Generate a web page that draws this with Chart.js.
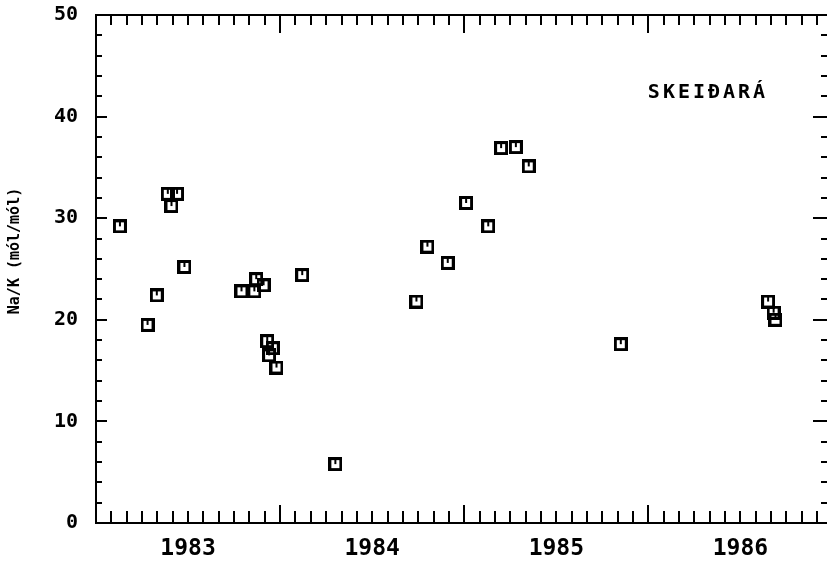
<!DOCTYPE html>
<html>
<head>
<meta charset="utf-8">
<title>Skeiðará Na/K</title>
<script src="https://cdn.jsdelivr.net/npm/chart.js@4/dist/chart.umd.min.js"></script>
<style>
  html, body { margin: 0; padding: 0; background: #fff; overflow: hidden; }
  canvas { display: block; }
</style>
</head>
<body>
<canvas id="chart" width="827" height="566"></canvas>
<script>
// Sampling dates (decimal years) and measured Na/K molar ratios
const sampleDates = [
  1983.13, 1983.28, 1983.33, 1983.39, 1983.44, 1983.41, 1983.48,
  1983.79, 1983.87, 1983.86, 1983.91, 1983.93, 1983.96, 1983.94, 1983.98,
  1984.12, 1984.30,
  1984.74, 1984.80, 1984.91, 1985.01, 1985.13, 1985.20, 1985.28, 1985.35,
  1985.85,
  1986.65, 1986.68, 1986.69
];
const naKRatio = [
  29.2, 19.5, 22.4, 32.4, 32.4, 31.2, 25.2,
  22.8, 24.0, 22.8, 23.4, 17.9, 17.2, 16.5, 15.3,
  24.4, 5.8,
  21.8, 27.2, 25.6, 31.5, 29.2, 36.9, 37.0, 35.1,
  17.6,
  21.8, 20.7, 20.0
];
const yearLabels = ['1983', '1984', '1985', '1986'];
const yMajorTicks = [0, 10, 20, 30, 40, 50];
const riverName = 'SKEIÐARÁ';
const yAxisTitle = 'Na/K (mól/mól)';

const FONT = '"DejaVu Sans Mono", "Liberation Mono", monospace';
const firstYear = Number(yearLabels[0]);
// the plot is clipped a few days before the end of 1986
const xMax = 1986.97;

// Square plotter-style marker with a notch hanging from the top edge
function makeMarker() {
  const c = document.createElement('canvas');
  c.width = 14; c.height = 14;
  const g = c.getContext('2d');
  g.fillStyle = '#000';
  // outline built from filled bars so the edges stay crisp
  g.fillRect(0, 0, 14, 3);
  g.fillRect(0, 11, 14, 3);
  g.fillRect(0, 0, 3, 14);
  g.fillRect(11, 0, 3, 14);
  g.fillRect(6, 3, 2, 4);
  return c;
}

// Frame, inward tick marks, label inside the plot and the rotated axis title
const framePlugin = {
  id: 'frame',
  afterDraw(chart) {
    const { ctx, chartArea: a, scales } = chart;
    const xs = scales.x, ys = scales.y;
    ctx.save();
    ctx.strokeStyle = '#000';
    ctx.lineWidth = 2;
    ctx.beginPath();
    ctx.moveTo(a.right + 2, a.top);
    ctx.lineTo(a.left, a.top);
    ctx.lineTo(a.left, a.bottom);
    ctx.lineTo(a.right + 2, a.bottom);
    ctx.stroke();

    ctx.beginPath();
    // monthly ticks on top and bottom, longer at each new year
    for (let m = 1; firstYear + m / 12 < xMax; m++) {
      const px = Math.round(xs.getPixelForValue(firstYear + m / 12));
      const yearStart = m % 12 === 0;
      const topLen = yearStart ? 18 : 10;
      const botLen = yearStart ? 18 : 12;
      ctx.moveTo(px, a.top); ctx.lineTo(px, a.top + topLen);
      ctx.moveTo(px, a.bottom); ctx.lineTo(px, a.bottom - botLen);
    }
    // ticks every 2 units on left and right, longer at labelled values
    for (let v = 2; v < 50; v += 2) {
      const py = Math.round(ys.getPixelForValue(v));
      const major = yMajorTicks.includes(v);
      const lLen = major ? 11 : 6;
      const rLen = major ? 14 : 6;
      ctx.moveTo(a.left, py); ctx.lineTo(a.left + lLen, py);
      ctx.moveTo(a.right, py); ctx.lineTo(a.right - rLen, py);
    }
    ctx.stroke();

    // river name
    ctx.fillStyle = '#000';
    ctx.font = 'bold 20px ' + FONT;
    if ('letterSpacing' in ctx) ctx.letterSpacing = '3px';
    ctx.textAlign = 'center';
    ctx.textBaseline = 'alphabetic';
    ctx.fillText(riverName, 708, 98);
    if ('letterSpacing' in ctx) ctx.letterSpacing = '0px';

    // y axis title
    ctx.translate(15, 251);
    ctx.rotate(-Math.PI / 2);
    ctx.font = 'bold 15px ' + FONT;
    ctx.textBaseline = 'middle';
    ctx.fillText(yAxisTitle, 0, 0);
    ctx.restore();
  }
};

const points = sampleDates.map((d, i) => ({ x: d, y: naKRatio[i] }));

new Chart(document.getElementById('chart'), {
  type: 'scatter',
  data: {
    datasets: [{
      label: riverName,
      data: points,
      pointStyle: makeMarker(),
      pointRadius: 7,
      pointHoverRadius: 7,
      borderColor: '#000',
      backgroundColor: '#000',
      clip: false
    }]
  },
  options: {
    responsive: false,
    devicePixelRatio: 1,
    animation: false,
    events: [],
    layout: { autoPadding: false, padding: { left: 0, top: 15, right: 0, bottom: 0 } },
    plugins: {
      legend: { display: false },
      tooltip: { enabled: false }
    },
    scales: {
      x: {
        type: 'linear',
        min: firstYear,
        max: xMax,
        afterBuildTicks(scale) {
          scale.ticks = yearLabels.map(l => ({ value: Number(l) + 0.5 }));
        },
        afterFit(scale) {
          scale.height = 43;
          scale.paddingLeft = 0;
          scale.paddingRight = 0;
        },
        grid: { display: false, drawTicks: false },
        border: { display: false },
        ticks: {
          autoSkip: false,
          maxRotation: 0,
          padding: 12,
          color: '#000',
          font: { family: FONT, size: 23, weight: 'bold' },
          callback: (v, i) => yearLabels[i]
        }
      },
      y: {
        min: yMajorTicks[0],
        max: yMajorTicks[yMajorTicks.length - 1],
        afterBuildTicks(scale) {
          scale.ticks = yMajorTicks.map(v => ({ value: v }));
        },
        afterFit(scale) {
          scale.width = 96;
          scale.paddingTop = 0;
          scale.paddingBottom = 0;
        },
        grid: { display: false, drawTicks: false },
        border: { display: false },
        ticks: {
          padding: 18,
          color: '#000',
          font: { family: FONT, size: 20, weight: 'bold' },
          callback: v => String(v)
        }
      }
    }
  },
  plugins: [framePlugin]
});
</script>
</body>
</html>
